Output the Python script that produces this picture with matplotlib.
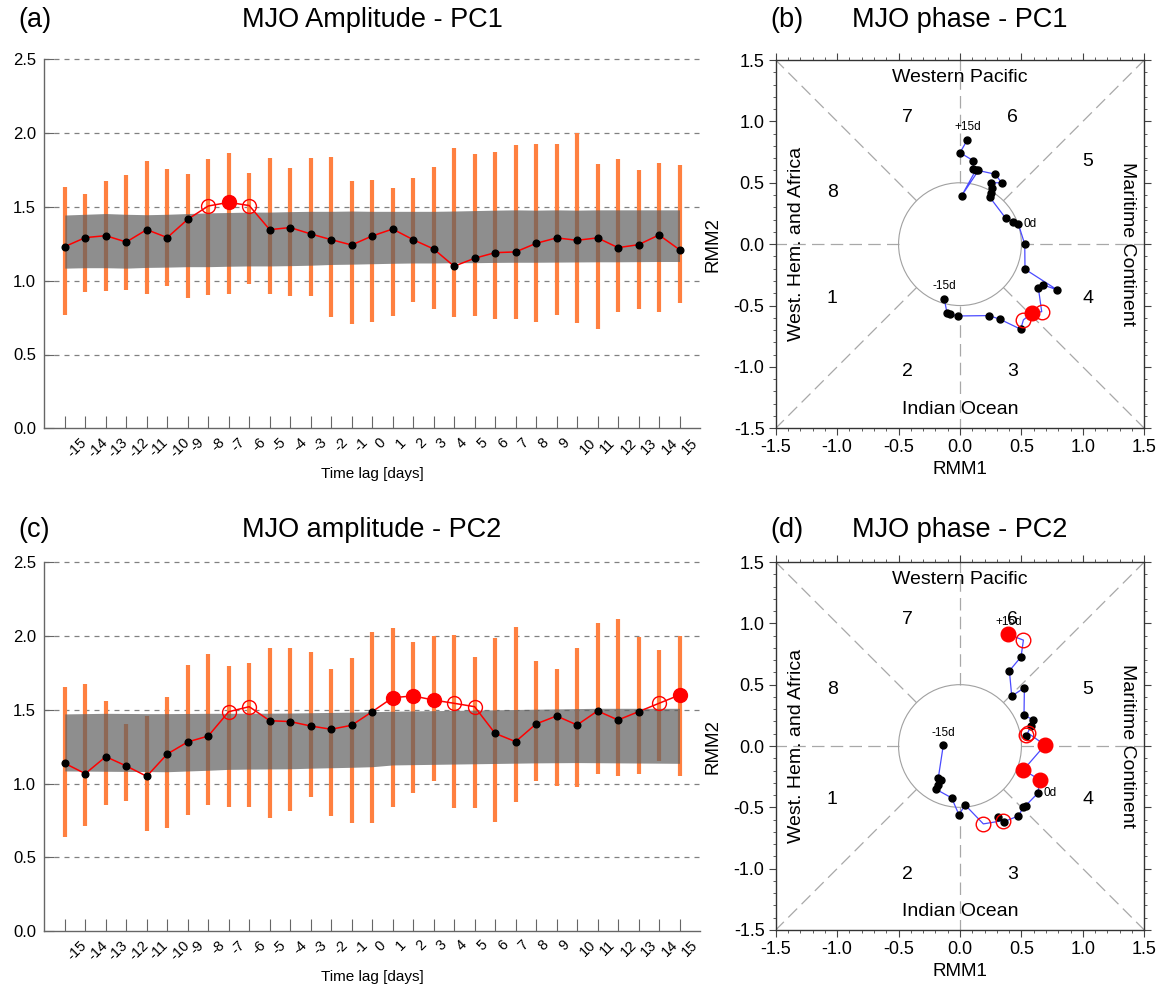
import numpy as np
import matplotlib.pyplot as plt
from matplotlib.patches import Circle

plt.rcParams['font.family'] = ['Liberation Sans', 'DejaVu Sans']

lags = np.arange(-15, 16)
lag_labels = [str(l) for l in lags]

# ---- PC1 amplitude ----
amp1 = [1.231, 1.292, 1.305, 1.262, 1.346, 1.292, 1.416, 1.506, 1.531, 1.509,
        1.346, 1.360, 1.317, 1.278, 1.242, 1.303, 1.350, 1.278, 1.215, 1.098,
        1.152, 1.190, 1.195, 1.253, 1.290, 1.274, 1.290, 1.224, 1.244, 1.310, 1.210]
amp1_hi = [1.637, 1.585, 1.673, 1.719, 1.811, 1.757, 1.723, 1.825, 1.863, 1.728,
           1.829, 1.764, 1.832, 1.838, 1.673, 1.680, 1.628, 1.698, 1.773, 1.902,
           1.857, 1.874, 1.917, 1.924, 1.924, 1.999, 1.791, 1.825, 1.750, 1.798, 1.784]
amp1_lo = [0.768, 0.926, 0.933, 0.937, 0.910, 0.964, 0.885, 0.901, 0.910, 0.976,
           0.910, 0.897, 0.899, 0.752, 0.707, 0.718, 0.761, 0.854, 0.808, 0.752,
           0.761, 0.741, 0.738, 0.723, 0.768, 0.711, 0.671, 0.790, 0.811, 0.786, 0.847]
band1_hi = [1.445, 1.450, 1.455, 1.450, 1.447, 1.450, 1.455, 1.460, 1.462, 1.465,
            1.465, 1.468, 1.470, 1.470, 1.472, 1.470, 1.470, 1.470, 1.470, 1.472,
            1.475, 1.478, 1.480, 1.478, 1.480, 1.478, 1.480, 1.480, 1.480, 1.480, 1.480]
band1_lo = [1.085, 1.088, 1.088, 1.085, 1.090, 1.092, 1.095, 1.095, 1.098, 1.100,
            1.100, 1.102, 1.105, 1.110, 1.112, 1.115, 1.118, 1.120, 1.120, 1.122,
            1.122, 1.124, 1.125, 1.125, 1.126, 1.127, 1.128, 1.128, 1.129, 1.130, 1.130]
sig1 = [0, 0, 0, 0, 0, 0, 0, 1, 2, 1, 0, 0, 0, 0, 0, 0,
        0, 0, 0, 0, 0, 0, 0, 0, 0, 0, 0, 0, 0, 0, 0]

# ---- PC1 phase space ----
rmm1_pc1 = [-0.128, -0.106, -0.081, -0.019, 0.236, 0.326, 0.494, 0.516, 0.584, 0.665,
            0.638, 0.678, 0.792, 0.529, 0.527, 0.475, 0.434, 0.372, 0.244, 0.250,
            0.260, 0.250, 0.340, 0.285, 0.150, 0.014, 0.130, 0.108, 0.108, 0.000, 0.060]
rmm2_pc1 = [-0.446, -0.559, -0.571, -0.585, -0.582, -0.612, -0.693, -0.617, -0.563, -0.550,
            -0.359, -0.332, -0.373, -0.204, -0.001, 0.164, 0.183, 0.211, 0.380, 0.420,
            0.455, 0.500, 0.500, 0.570, 0.600, 0.395, 0.605, 0.610, 0.680, 0.745, 0.850]

# ---- PC2 amplitude ----
amp2 = [1.137, 1.067, 1.182, 1.119, 1.049, 1.200, 1.282, 1.322, 1.487, 1.521,
        1.426, 1.420, 1.390, 1.368, 1.395, 1.487, 1.582, 1.594, 1.566, 1.544,
        1.521, 1.340, 1.284, 1.404, 1.458, 1.397, 1.492, 1.431, 1.487, 1.544, 1.600]
amp2_hi = [1.652, 1.673, 1.562, 1.404, 1.460, 1.587, 1.804, 1.876, 1.797, 1.815,
           1.919, 1.921, 1.890, 1.779, 1.851, 2.025, 2.052, 1.957, 2.000, 2.007,
           1.856, 1.989, 2.064, 1.833, 1.779, 1.919, 2.091, 2.113, 1.996, 1.906, 2.000]
amp2_lo = [0.640, 0.712, 0.854, 0.882, 0.680, 0.698, 0.789, 0.852, 0.839, 0.839,
           0.764, 0.816, 0.909, 0.780, 0.730, 0.730, 0.843, 0.938, 1.017, 0.836,
           0.832, 0.737, 0.873, 1.017, 0.983, 0.979, 1.062, 1.053, 1.065, 1.155, 1.051]
band2_hi = [1.472, 1.474, 1.476, 1.475, 1.474, 1.474, 1.475, 1.476, 1.476, 1.477,
            1.477, 1.478, 1.480, 1.482, 1.484, 1.487, 1.490, 1.492, 1.494, 1.496,
            1.498, 1.500, 1.502, 1.504, 1.506, 1.508, 1.510, 1.510, 1.510, 1.510, 1.510]
band2_lo = [1.085, 1.084, 1.083, 1.082, 1.081, 1.080, 1.085, 1.090, 1.096, 1.098,
            1.099, 1.100, 1.104, 1.107, 1.110, 1.114, 1.126, 1.128, 1.130, 1.132,
            1.134, 1.136, 1.138, 1.140, 1.141, 1.142, 1.141, 1.140, 1.139, 1.138, 1.137]
sig2 = [0, 0, 0, 0, 0, 0, 0, 0, 1, 1, 0, 0, 0, 0, 0, 0,
        2, 2, 2, 1, 1, 0, 0, 0, 0, 0, 0, 0, 0, 1, 2]

# ---- PC2 phase space ----
rmm1_pc2 = [-0.136, -0.177, -0.155, -0.182, -0.195, -0.068, -0.008, 0.041, 0.190, 0.353,
            0.307, 0.361, 0.475, 0.516, 0.535, 0.633, 0.651, 0.516, 0.692, 0.556,
            0.537, 0.540, 0.578, 0.597, 0.521, 0.524, 0.421, 0.402, 0.497, 0.516, 0.394]
rmm2_pc2 = [0.006, -0.263, -0.277, -0.318, -0.353, -0.423, -0.562, -0.480, -0.635, -0.608,
            -0.581, -0.616, -0.570, -0.500, -0.486, -0.385, -0.277, -0.195, 0.008, 0.103,
            0.090, 0.085, 0.163, 0.212, 0.252, 0.475, 0.407, 0.613, 0.727, 0.863, 0.910]

W, H = 1163, 990
fig = plt.figure(figsize=(W / 100, H / 100), dpi=100)

ORANGE = '#ff8040'
GRID = '#808080'


def amp_panel(box, amp, hi, lo, bhi, blo, sig, title, letter, ytitle):
    ax = fig.add_axes(box)
    amp = np.array(amp)
    sig = np.array(sig)
    ax.vlines(lags, lo, hi, color=ORANGE, lw=3.0, zorder=2)
    ax.fill_between(lags, blo, bhi, color='#5e5e5e', alpha=0.7, lw=0, zorder=3)
    ax.plot(lags, amp, color='red', lw=1.1, zorder=4)
    m = sig == 0
    ax.plot(lags[m], amp[m], 'o', color='black', ms=4.8, zorder=5)
    m = sig == 2
    ax.plot(lags[m], amp[m], 'o', color='red', ms=10, zorder=6)
    m = sig == 1
    ax.plot(lags[m], amp[m], 'o', mfc='none', mec='red', mew=1.0, ms=10, zorder=6)

    ax.set_xlim(-16, 16)
    ax.set_ylim(0, 2.5)
    ax.set_yticks(np.arange(0, 2.51, 0.5))
    ax.set_yticklabels(['%.1f' % v for v in np.arange(0, 2.51, 0.5)], fontsize=12)
    for v in np.arange(0.5, 2.51, 0.5):
        ax.axhline(v, color=GRID, lw=0.9, ls=(0, (4, 4)), zorder=1, clip_on=False)
    ax.set_xticks(lags)
    ax.set_xticklabels(lag_labels, rotation=45, ha='left', fontsize=10.5)
    ax.tick_params(axis='x', direction='in', length=9, color='#666', pad=5)
    ax.tick_params(axis='y', direction='in', length=7, color='#666', pad=6)
    for s in ['top', 'right']:
        ax.spines[s].set_visible(False)
    for s in ['left', 'bottom']:
        ax.spines[s].set_color('#666')
        ax.spines[s].set_linewidth(1.0)
    ax.text(0.5, -0.125, 'Time lag [days]', transform=ax.transAxes,
            ha='center', va='center', fontsize=11)
    fig.text(372 / W, 1 - ytitle / H, title, ha='center', va='center', fontsize=19.5)
    fig.text(18 / W, 1 - ytitle / H, letter, ha='left', va='center', fontsize=19.5)
    return ax


def phase_panel(box, xs, ys, sig, title, letter, ytitle, num_pos, tag_off):
    ax = fig.add_axes(box)
    xs = np.array(xs)
    ys = np.array(ys)
    sig = np.array(sig)
    ax.set_xlim(-1.5, 1.5)
    ax.set_ylim(-1.5, 1.5)

    dash = (0, (10, 5))
    lc = '#a8a8a8'
    r = 0.5
    d = r / np.sqrt(2)
    for sx, sy in [(1, 1), (1, -1), (-1, 1), (-1, -1)]:
        ax.plot([sx * d, sx * 1.5], [sy * d, sy * 1.5], color=lc, lw=0.9, ls=dash, zorder=1)
    for sx in [-1, 1]:
        ax.plot([sx * r, sx * 1.5], [0, 0], color=lc, lw=0.9, ls=dash, zorder=1)
        ax.plot([0, 0], [sx * r, sx * 1.5], color=lc, lw=0.9, ls=dash, zorder=1)
    ax.add_patch(Circle((0, 0), r, fill=False, ec='#a0a0a0', lw=0.8, zorder=1))

    ax.text(0, 1.36, 'Western Pacific', ha='center', va='center', fontsize=14)
    ax.text(0, -1.35, 'Indian Ocean', ha='center', va='center', fontsize=14)
    ax.text(-1.33, 0, 'West. Hem. and Africa', rotation=90, ha='center', va='center', fontsize=14)
    ax.text(1.36, 0, 'Maritime Continent', rotation=-90, ha='center', va='center', fontsize=14)
    for n, (px, py) in num_pos.items():
        ax.text(px, py, n, ha='center', va='center', fontsize=14)

    ax.plot(xs, ys, color='#4a4aff', lw=0.9, zorder=3)
    m = sig == 0
    ax.plot(xs[m], ys[m], 'o', color='black', ms=5, zorder=4)
    m = sig == 2
    ax.plot(xs[m], ys[m], 'o', color='red', ms=10.5, zorder=5)
    m = sig == 1
    ax.plot(xs[m], ys[m], 'o', mfc='none', mec='red', mew=1.0, ms=10.5, zorder=5)

    ax.annotate('-15d', (xs[0], ys[0]), xytext=(0, 9), textcoords='offset points',
                ha='center', va='center', fontsize=8.5, zorder=6)
    ax.annotate('+15d', (xs[-1], ys[-1]), xytext=(0, 9), textcoords='offset points',
                ha='center', va='center', fontsize=8.5, zorder=6)
    ax.annotate('0d', (xs[15], ys[15]), xytext=tag_off, textcoords='offset points',
                ha='left', va='center', fontsize=8.5, zorder=6)

    ticks = np.arange(-1.5, 1.51, 0.5)
    ax.set_xticks(ticks)
    ax.set_yticks(ticks)
    ax.set_xticks(np.arange(-1.5, 1.51, 0.1), minor=True)
    ax.set_yticks(np.arange(-1.5, 1.51, 0.1), minor=True)
    ax.set_xticklabels(['%.1f' % t for t in ticks], fontsize=13)
    ax.set_yticklabels(['%.1f' % t for t in ticks], fontsize=13)
    ax.tick_params(which='both', direction='out', top=True, right=True, color='#444')
    ax.tick_params(which='major', length=5, pad=3)
    ax.tick_params(which='minor', length=2.5)
    for s in ax.spines.values():
        s.set_color('#333')
        s.set_linewidth(1.0)
    ax.text(0.5, -0.113, 'RMM1', transform=ax.transAxes, ha='center', va='center', fontsize=13.5)
    ax.text(-0.17, 0.5, 'RMM2', transform=ax.transAxes, ha='center', va='center',
            rotation=90, fontsize=13.5)
    fig.text(960 / W, 1 - ytitle / H, title, ha='center', va='center', fontsize=19.5)
    fig.text(770 / W, 1 - ytitle / H, letter, ha='left', va='center', fontsize=19.5)
    return ax


amp_panel([44.3 / W, 1 - 428.3 / H, (700 - 44.3) / W, (428.3 - 59.3) / H],
          amp1, amp1_hi, amp1_lo, band1_hi, band1_lo, sig1,
          'MJO Amplitude - PC1', '(a)', 20)
amp_panel([44.3 / W, 1 - 931 / H, (700 - 44.3) / W, (931 - 562.3) / H],
          amp2, amp2_hi, amp2_lo, band2_hi, band2_lo, sig2,
          'MJO amplitude - PC2', '(c)', 530)

pos_b = {'7': (-0.43, 1.03), '6': (0.43, 1.03), '5': (1.04, 0.67), '4': (1.04, -0.44),
         '3': (0.43, -1.04), '2': (-0.43, -1.04), '1': (-1.04, -0.44), '8': (-1.04, 0.42)}
pos_d = {'7': (-0.43, 1.03), '6': (0.43, 1.03), '5': (1.04, 0.46), '4': (1.04, -0.44),
         '3': (0.43, -1.05), '2': (-0.43, -1.05), '1': (-1.04, -0.44), '8': (-1.04, 0.46)}

phase_panel([775.7 / W, 1 - 428.3 / H, 368.6 / W, 368.3 / H],
            rmm1_pc1, rmm2_pc1, sig1, 'MJO phase - PC1', '(b)', 20, pos_b, (4, 0))
phase_panel([775.7 / W, 1 - 930 / H, 368.6 / W, 368 / H],
            rmm1_pc2, rmm2_pc2, sig2, 'MJO phase - PC2', '(d)', 530, pos_d, (4, 0))

fig.savefig('out.png', dpi=100)
